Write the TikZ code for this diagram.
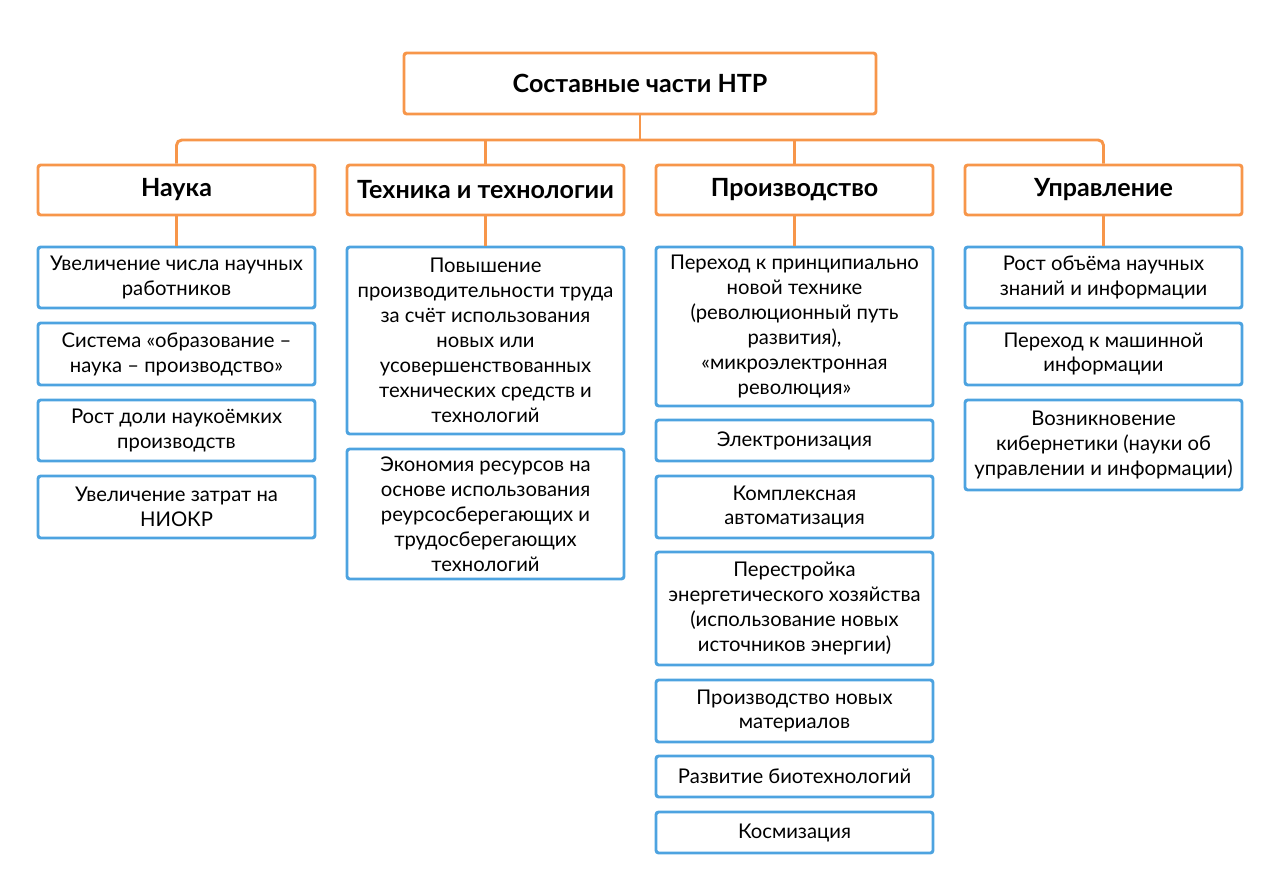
\documentclass[tikz,border=0pt]{standalone}
\usepackage{fontspec}
\setmainfont{Lato}
\definecolor{orng}{HTML}{F7964A}
\definecolor{blu}{HTML}{4DA3E0}
\begin{document}
\begin{tikzpicture}[x=0.75pt,y=-0.75pt,
  obox/.style={draw=orng,line width=2.2pt,rounded corners=2pt,fill=white,minimum width=207.75pt,inner sep=0pt,font=\fontsize{18.8}{22}\selectfont\bfseries,align=center},
  bbox/.style={draw=blu,line width=2.2pt,rounded corners=2pt,fill=white,minimum width=207.75pt,inner sep=0pt,font=\fontsize{15.2}{18.7}\selectfont,align=center},
  oline/.style={draw=orng,line width=2.2pt}]
\useasboundingbox (0,0) rectangle (1280,873);
% top
\node[obox,minimum width=354pt,minimum height=45.75pt] (top) at (640,83.5) {Составные части НТР};
% level 2
\node[obox,minimum height=37.5pt] (nauka) at (176.5,190) {Наука};
\node[obox,minimum height=37.5pt] (tekh) at (485.5,190) {Техника и технологии};
\node[obox,minimum height=37.5pt] (proiz) at (794.5,190) {Производство};
\node[obox,minimum height=37.5pt] (upr) at (1103.5,190) {Управление};
\coordinate (bus) at (640,140);
\draw[oline] (top.south) -- (bus);
\draw[oline,rounded corners=4pt] (nauka.north) |- (bus) -| (upr.north);
\draw[oline] (tekh.north) -- (tekh.north|-bus);
\draw[oline] (proiz.north) -- (proiz.north|-bus);
% column 1
\node[bbox,minimum height=45.75pt] (n1) at (176.5,277.5) {Увеличение числа научных\\работников};
\node[bbox,minimum height=46.5pt] (n2) at (176.5,354) {Система «образование –\\наука – производство»};
\node[bbox,minimum height=45.75pt] (n3) at (176.5,430.5) {Рост доли наукоёмких\\производств};
\node[bbox,minimum height=46.5pt] (n4) at (176.5,507) {Увеличение затрат на\\НИОКР};
\draw[oline] (nauka.south) -- (n1.north);
% column 2
\node[bbox,minimum height=140.25pt] (t1) at (485.5,340.5) {Повышение\\производительности труда\\за счёт использования\\новых или\\усовершенствованных\\технических средств и\\технологий};
\node[bbox,minimum height=97.5pt] (t2) at (485.5,514) {Экономия ресурсов на\\основе использования\\реурсосберегающих и\\трудосберегающих\\технологий};
\draw[oline] (tekh.south) -- (t1.north);
% column 3
\node[bbox,minimum height=119.25pt] (p1) at (794.5,326.5) {Переход к принципиально\\новой технике\\(революционный путь\\развития),\\«микроэлектронная\\революция»};
\node[bbox,minimum height=30.75pt] (p2) at (794.5,440.5) {Электронизация};
\node[bbox,minimum height=46.5pt] (p3) at (794.5,507) {Комплексная\\автоматизация};
\node[bbox,minimum height=84.75pt] (p4) at (794.5,608.5) {Перестройка\\энергетического хозяйства\\(использование новых\\источников энергии)};
\node[bbox,minimum height=46.5pt] (p5) at (794.5,711) {Производство новых\\материалов};
\node[bbox,minimum height=30.75pt] (p6) at (794.5,776.5) {Развитие биотехнологий};
\node[bbox,minimum height=30.75pt] (p7) at (794.5,832.5) {Космизация};
\draw[oline] (proiz.south) -- (p1.north);
% column 4
\node[bbox,minimum height=45.75pt] (u1) at (1103.5,277.5) {Рост объёма научных\\знаний и информации};
\node[bbox,minimum height=46.5pt] (u2) at (1103.5,354) {Переход к машинной\\информации};
\node[bbox,minimum height=67.5pt] (u3) at (1103.5,445) {Возникновение\\кибернетики (науки об\\управлении и информации)};
\draw[oline] (upr.south) -- (u1.north);
\end{tikzpicture}
\end{document}
